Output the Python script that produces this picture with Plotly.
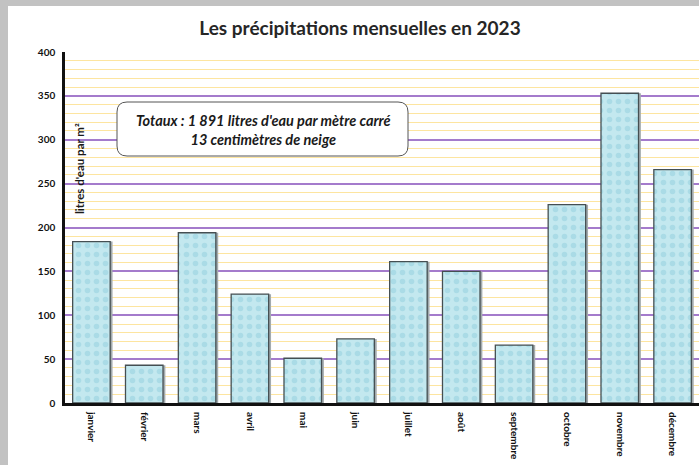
import plotly.graph_objects as go

months = ["janvier", "février", "mars", "avril", "mai", "juin", "juillet",
          "août", "septembre", "octobre", "novembre", "décembre"]
rain = [184, 43, 194, 124, 51, 73, 161, 150, 66, 226, 353, 266]
y_ticks = [0, 50, 100, 150, 200, 250, 300, 350, 400]
minor_ticks = [v for v in range(10, 400, 10) if v % 50 != 0]

title = "Les précipitations mensuelles en 2023"
y_title = "litres d'eau par m²"
box_text = "Totaux : 1 891 litres d'eau par mètre carré<br>13 centimètres de neige"

FONT = "Lato"
W, H = 699, 465
L, R, T, B = 65, 0, 52, 62
pw = W - L - R
ph = H - T - B

def px_x(x):
    return (x - L) / pw

def px_y(y):
    return (H - B - y) / ph

BW = 0.71
fig = go.Figure()
# shadow
fig.add_trace(go.Bar(
    x=months, y=rain, width=BW, offset=-BW / 2 + 0.045,
    marker=dict(color="#a3abae", line=dict(width=0)),
    hoverinfo="skip",
))
fig.add_trace(go.Bar(
    x=months, y=rain, width=BW, offset=-BW / 2,
    marker=dict(
        color="#bde5ee",
        line=dict(color="#454f52", width=1.3),
        pattern=dict(shape=".", fgcolor="#aadbe6", bgcolor="#c3e8ef",
                     size=9, solidity=0.3, fillmode="replace"),
    ),
    hoverinfo="skip",
))

shapes = []
# white panel over gray frame
shapes.append(dict(type="rect", xref="paper", yref="paper",
                   x0=px_x(8), x1=1.2, y0=-0.5, y1=px_y(6),
                   fillcolor="white", line=dict(width=0), layer="below"))

# rounded box (x in paper, y in data)
x0, x1 = px_x(117), px_x(408)
ky = 400 / ph
ya = (H - B - 156) * ky
yb = (H - B - 102) * ky
rx = 10 / pw
ry = 10 * ky
path = (f"M {x0+rx},{yb} L {x1-rx},{yb} Q {x1},{yb} {x1},{yb-ry} "
        f"L {x1},{ya+ry} Q {x1},{ya} {x1-rx},{ya} L {x0+rx},{ya} "
        f"Q {x0},{ya} {x0},{ya+ry} L {x0},{yb-ry} Q {x0},{yb} {x0+rx},{yb} Z")
shapes.append(dict(type="path", xref="paper", yref="y", path=path,
                   fillcolor="white", line=dict(color="#555555", width=1),
                   layer="above"))

fig.update_layout(
    width=W, height=H,
    margin=dict(l=L, r=R, t=T, b=B),
    paper_bgcolor="#c2c2c2",
    plot_bgcolor="white",
    barmode="overlay",
    showlegend=False,
    font=dict(family=FONT, color="#1a1a1a"),
    title=dict(text="<b>" + title + "</b>", x=360 / W, xanchor="center",
               y=1 - 28 / H, yanchor="middle",
               font=dict(family=FONT, size=19, color="#262626")),
    xaxis=dict(
        tickangle=90,
        tickfont=dict(family=FONT, size=10, color="#111111", weight="bold"),
        showgrid=False,
        showline=True, linecolor="#111111", linewidth=3,
        ticks="outside", ticklen=4, tickcolor="rgba(0,0,0,0)",
        fixedrange=True,
    ),
    yaxis=dict(
        range=[0, 400],
        tickvals=y_ticks,
        tickfont=dict(family=FONT, size=10, color="#111111", weight="bold"),
        showgrid=True, gridcolor="#a47bcc", gridwidth=1.6,
        minor=dict(tickvals=minor_ticks, showgrid=True,
                   gridcolor="#fde5a0", gridwidth=1.2),
        showline=True, linecolor="#111111", linewidth=2.5,
        ticks="outside", ticklen=5, tickcolor="rgba(0,0,0,0)",
        zeroline=False,
        fixedrange=True,
    ),
    shapes=shapes,
    annotations=[
        dict(text="<b>" + y_title + "</b>", xref="paper", yref="paper",
             x=px_x(79), y=px_y(169), xanchor="center", yanchor="middle",
             textangle=-90, showarrow=False,
             font=dict(family=FONT, size=11.5, color="#1a1a1a")),
        dict(text="<b><i>" + box_text + "</i></b>", xref="paper", yref="paper",
             x=px_x(263), y=px_y(130), xanchor="center", yanchor="middle",
             showarrow=False, align="center",
             font=dict(family=FONT, size=14.5, color="#1a1a1a")),
    ],
)

fig.write_html(
    "out.html",
    config={"displayModeBar": False},
    post_script="document.body.style.margin='0';"
                "document.body.style.background='#c2c2c2';",
)
